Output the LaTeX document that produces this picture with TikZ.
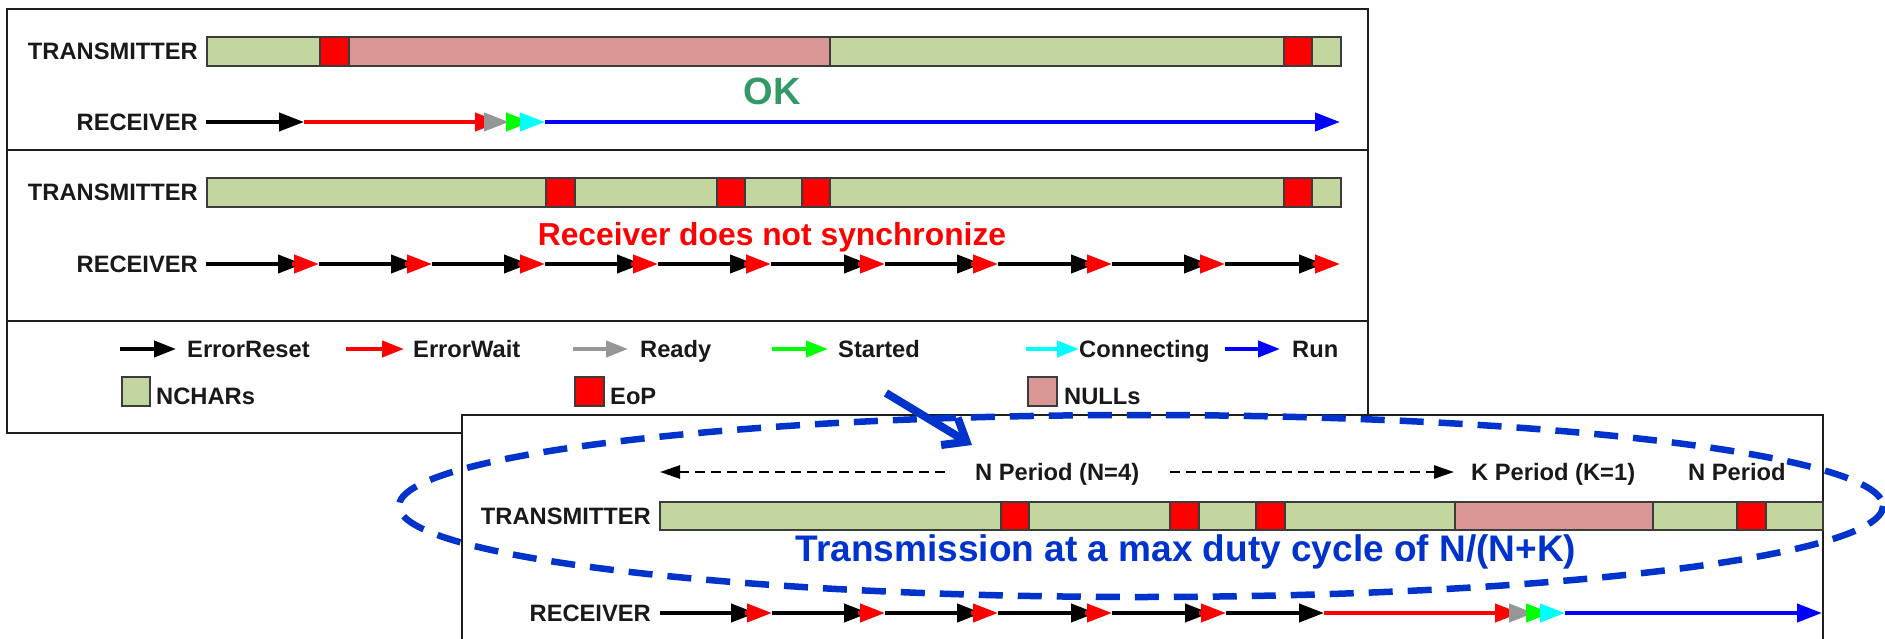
\documentclass[tikz,border=0pt]{standalone}
\usepackage{fontspec}
\setmainfont{Liberation Sans}
\usetikzlibrary{arrows.meta}

\definecolor{ncharfill}{RGB}{196,214,160}
\definecolor{nullfill}{RGB}{217,150,148}
\definecolor{eopfill}{RGB}{255,0,0}
\definecolor{barline}{RGB}{60,60,60}
\definecolor{boxline}{RGB}{30,30,30}
\definecolor{readygrey}{RGB}{150,150,150}
\definecolor{startgreen}{RGB}{0,255,0}
\definecolor{conncyan}{RGB}{0,255,255}
\definecolor{runblue}{RGB}{0,0,255}
\definecolor{noteblue}{RGB}{0,51,204}
\definecolor{okgreen}{RGB}{51,153,102}
\definecolor{labelgrey}{RGB}{25,25,25}

\begin{document}
\begin{tikzpicture}[x=1pt,y=-1pt,
  seg/.style={draw=barline,line width=1.8pt},
  nch/.style={seg,fill=ncharfill},
  eop/.style={seg,fill=eopfill},
  nul/.style={seg,fill=nullfill},
  frame/.style={draw=boxline,line width=1.8pt},
  rowlabel/.style={font=\bfseries\fontsize{23.7}{28}\selectfont,text=labelgrey,inner sep=0pt,anchor=east},
  legbold/.style={font=\bfseries\fontsize{23.7}{28}\selectfont,text=labelgrey,inner sep=0pt,anchor=base west},
  state/.style={line width=4pt,-{Triangle[length=25pt,width=18pt]}},
  legarrow/.style={line width=4pt,-{Triangle[length=22pt,width=16pt]}},
  period/.style={line width=2.5pt,dash pattern=on 10pt off 6pt,-{Triangle[length=20pt,width=13pt]}},
]
\useasboundingbox (0,0) rectangle (1885,639);
\clip (0,0) rectangle (1885,639);
\fill[white] (0,0) rectangle (1885,639);

% ---------- upper panel ----------
\draw[frame] (7,9) rectangle (1368,433);
\draw[frame] (7,150) -- (1368,150);
\draw[frame] (7,321) -- (1368,321);

% scenario 1
\node[rowlabel] (tx1) at (198,51.5) {TRANSMITTER};
\foreach \a/\b/\s in {207/320/nch,320/349/eop,349/830/nul,830/1284/nch,1284/1312/eop,1312/1341/nch}
  \path[style=\s] (\a,37) rectangle (\b,66);
\node[font=\bfseries\fontsize{38}{44}\selectfont,text=okgreen,inner sep=0pt,anchor=base] (ok) at (772,105) {OK};
\node[rowlabel] (rx1) at (198,122) {RECEIVER};
\draw[state,black] (206,122) -- (304,122);
\draw[state,red] (304,122) -- (500,122);
\draw[state,readygrey] (484,122) -- (509,122);
\draw[state,startgreen] (506,122) -- (531,122);
\draw[state,conncyan] (520,122) -- (545,122);
\draw[state,runblue] (545,122) -- (1340,122);

% scenario 2
\node[rowlabel] (tx2) at (198,192.5) {TRANSMITTER};
\foreach \a/\b/\s in {207/546/nch,546/575/eop,575/717/nch,717/745/eop,745/802/nch,802/830/eop,830/1284/nch,1284/1312/eop,1312/1341/nch}
  \path[style=\s] (\a,178) rectangle (\b,207);
\node[font=\bfseries\fontsize{31.8}{38}\selectfont,text=red,inner sep=0pt,anchor=base] (nosync) at (772,245) {Receiver does not synchronize};
\node[rowlabel] (rx2) at (198,264) {RECEIVER};
\foreach \r [remember=\r as \p (initially 206)] in {319,432,545,658,771,885,998,1112,1225,1340} {
  \draw[state,black] (\p,264) -- ({\r-16},264);
  \draw[state,red] ({\r-27},264) -- (\r,264);
}

% legend
\draw[legarrow,black] (120,349) -- (176,349);
\node[legbold] (lg-reset) at (187,357) {ErrorReset};
\draw[legarrow,red] (346,349) -- (404,349);
\node[legbold] (lg-wait) at (413,357) {ErrorWait};
\draw[legarrow,readygrey] (573,349) -- (628,349);
\node[legbold] (lg-ready) at (640,357) {Ready};
\draw[legarrow,startgreen] (772,349) -- (828,349);
\node[legbold] (lg-started) at (838,357) {Started};
\draw[legarrow,conncyan] (1026,349) -- (1079,349);
\node[legbold] (lg-conn) at (1079,357) {Connecting};
\draw[legarrow,runblue] (1225,349) -- (1280,349);
\node[legbold] (lg-run) at (1292,357) {Run};

\path[nch] (122,377) rectangle (150,406);
\node[legbold] (lg-nchar) at (156,404) {NCHARs};
\path[eop] (575,377) rectangle (604,406);
\node[legbold] (lg-eop) at (610,404) {EoP};
\path[nul] (1028,377) rectangle (1057,406);
\node[legbold] (lg-null) at (1064,404) {NULLs};

% ---------- lower panel ----------
\draw[frame,fill=white] (462,415) rectangle (1823,660);

\coordinate (np-tip) at (660,472);
\coordinate (np-tail) at (945,472);
\coordinate (kp-tail) at (1170,472);
\coordinate (kp-tip) at (1454,472);
\draw[period] (np-tail) -- (np-tip);
\draw[period] (kp-tail) -- (kp-tip);
\node[legbold] (nper) at (975,480) {N Period (N=4)};
\node[legbold] (kper) at (1471,480) {K Period (K=1)};
\node[legbold] (nper2) at (1688,480) {N Period};

\node[rowlabel] (tx3) at (651,516) {TRANSMITTER};
\foreach \a/\b/\s in {660/1001/nch,1001/1029/eop,1029/1170/nch,1170/1199/eop,1199/1256/nch,1256/1285/eop,1285/1455/nch,1455/1653/nul,1653/1737/nch,1737/1766/eop,1766/1823/nch}
  \path[style=\s] (\a,502) rectangle (\b,530);

\node[font=\bfseries\fontsize{37}{44}\selectfont,text=noteblue,inner sep=0pt,anchor=base] (duty) at (1186,561) {Transmission at a max duty cycle of N/(N+K)};

\node[rowlabel] (rx3) at (651,613) {RECEIVER};
\foreach \r [remember=\r as \p (initially 660)] in {772,885,998,1112,1226} {
  \draw[state,black] (\p,613) -- ({\r-16},613);
  \draw[state,red] ({\r-27},613) -- (\r,613);
}
\draw[state,black] (1226,613) -- (1324,613);
\draw[state,red] (1324,613) -- (1520,613);
\draw[state,readygrey] (1509,613) -- (1534,613);
\draw[state,startgreen] (1526,613) -- (1551,613);
\draw[state,conncyan] (1540,613) -- (1565,613);
\draw[state,runblue] (1565,613) -- (1822,613);

% highlight of the transmitter row
\draw[noteblue,line width=6.5pt,dash pattern=on 24pt off 15pt] (1141,506) ellipse [x radius=742,y radius=91];
\coordinate (call-from) at (886,393);
\coordinate (call-to) at (972,445);
\draw[noteblue,line width=8pt,-{Straight Barb[length=20pt,width=32pt]}] (call-from) -- (call-to);
\end{tikzpicture}
\end{document}
